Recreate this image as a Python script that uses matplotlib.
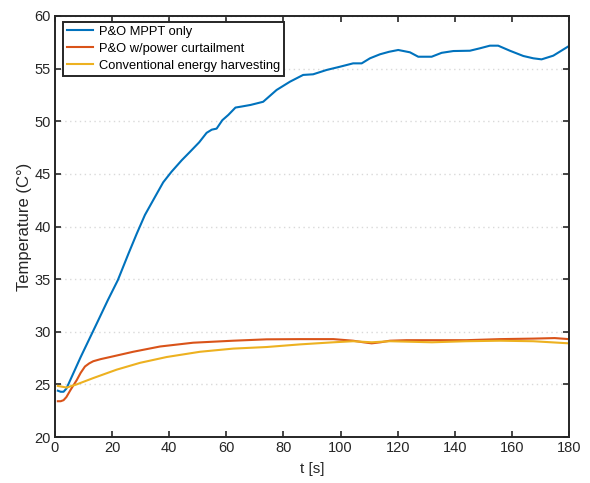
import matplotlib
matplotlib.use("Agg")
import matplotlib.pyplot as plt

plt.rcParams['font.family'] = ['Liberation Sans', 'DejaVu Sans']

# Temperature traces (time in s, temperature in degrees C)
mppt_t = [1, 2, 3, 4, 5, 7, 9, 12, 15, 18.5, 22, 25.7, 28.6, 31.5, 35, 37.9, 40.8,
          44.4, 47.3, 50.5, 53.1, 54.9, 56.6, 58.6, 60.7, 63.2, 65.4, 68.5, 72.9,
          77.6, 82.3, 86.9, 90.4, 95.1, 99.8, 104.4, 107.4, 110.3, 113.8, 117,
          120.2, 124.3, 127.2, 131.9, 135.4, 139.5, 145.3, 148.8, 152.3, 155.2,
          159.3, 164, 167.5, 170.4, 174.5, 180]
mppt_T = [24.4, 24.3, 24.3, 24.6, 25.2, 26.4, 27.6, 29.3, 31.0, 33.0, 34.9, 37.4,
          39.3, 41.1, 42.8, 44.2, 45.2, 46.3, 47.1, 48.0, 48.9, 49.2, 49.3, 50.1,
          50.6, 51.3, 51.4, 51.55, 51.85, 52.97, 53.76, 54.4, 54.46, 54.87, 55.18,
          55.5, 55.5, 55.98, 56.36, 56.6, 56.77, 56.55, 56.13, 56.13, 56.5, 56.67,
          56.7, 56.93, 57.18, 57.18, 56.7, 56.2, 55.98, 55.88, 56.23, 57.15]

curt_t = [1, 2, 3, 4, 5.5, 7.6, 9, 10.5, 12, 13.4, 16, 19.3, 27.4, 36.8, 48.4, 62.4,
          74.1, 85.8, 97.5, 104.4, 108, 110.9, 114, 117.3, 123.1, 144.1, 155.8,
          167.5, 175, 180]
curt_T = [23.4, 23.4, 23.5, 23.8, 24.5, 25.4, 26.1, 26.7, 27.0, 27.2, 27.4, 27.6,
          28.1, 28.6, 28.96, 29.15, 29.28, 29.3, 29.3, 29.15, 29.0, 28.9, 29.0,
          29.15, 29.2, 29.2, 29.3, 29.35, 29.4, 29.3]

conv_t = [1, 4.1, 7.6, 13.4, 21.6, 29.8, 39.1, 50.8, 62.4, 74.1, 85.8, 97.5, 104.4,
          110.9, 117.3, 132, 144, 155.8, 167.5, 180]
conv_T = [24.85, 24.7, 25.0, 25.6, 26.4, 27.05, 27.6, 28.1, 28.4, 28.55, 28.8, 29.0,
          29.1, 29.0, 29.1, 29.0, 29.1, 29.15, 29.1, 28.9]

labels = ['P&O MPPT only', 'P&O w/power curtailment', 'Conventional energy harvesting']
colors = ['#0072BD', '#D95319', '#EDB120']

x_ticks = list(range(0, 181, 20))
y_ticks = list(range(20, 61, 5))

fig = plt.figure(figsize=(5.9, 4.83), dpi=100)
ax = fig.add_axes([0.0932, 0.0952, 0.8712, 0.8717])

ax.plot(mppt_t, mppt_T, color=colors[0], lw=1.5, label=labels[0])
ax.plot(curt_t, curt_T, color=colors[1], lw=1.5, label=labels[1])
ax.plot(conv_t, conv_T, color=colors[2], lw=1.5, label=labels[2])

ax.set_xlim(0, 180)
ax.set_ylim(20, 60)
ax.set_xticks(x_ticks)
ax.set_yticks(y_ticks)

ax.yaxis.grid(True, linestyle=(0, (1, 2.5)), color='#d9d9d9', lw=1.0)
ax.set_axisbelow(True)

dark = '#262626'
for s in ax.spines.values():
    s.set_linewidth(1.4)
    s.set_color(dark)
ax.tick_params(direction='in', top=True, right=True, length=4, width=1.2,
               colors=dark, labelsize=10.5, pad=3)

ax.set_xlabel('t [s]', fontsize=11, color=dark, labelpad=5)
ax.set_ylabel('Temperature (C°)', fontsize=12, color=dark, labelpad=2)

leg = ax.legend(loc='upper left', bbox_to_anchor=(0.0156, 0.986), borderaxespad=0,
                fontsize=9.3, frameon=True, fancybox=False, handlelength=2.0,
                handletextpad=0.45, labelspacing=0.38, borderpad=0.3)
leg.get_frame().set_edgecolor(dark)
leg.get_frame().set_linewidth(1.4)
leg.get_frame().set_alpha(1)

fig.savefig('out.png', dpi=100)
